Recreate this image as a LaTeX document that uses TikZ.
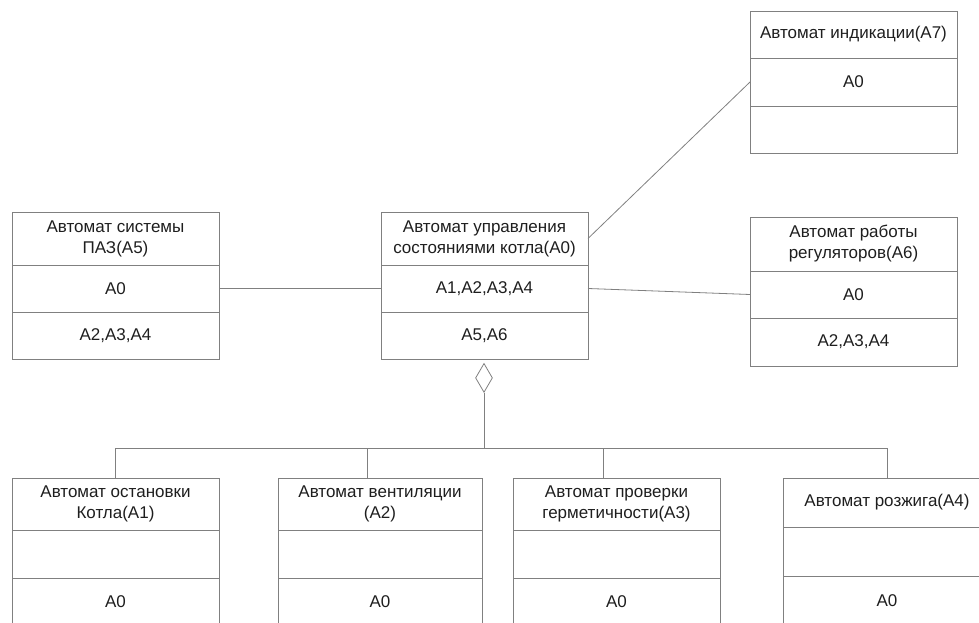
\documentclass[tikz,border=0pt]{standalone}
\usepackage{fontspec}
\setmainfont{Liberation Sans}
\usetikzlibrary{shapes.geometric}
\definecolor{lc}{HTML}{808080}
\definecolor{tc}{HTML}{1E1E1E}
\tikzset{
  umlframe/.style={draw=lc, line width=0.9pt, inner sep=0pt, outer sep=0pt, anchor=north west},
  sepline/.style={draw=lc, line width=0.9pt},
  conn/.style={draw=lc, line width=0.8pt},
  lbl/.style={text=tc, font=\fontsize{17}{21}\selectfont, align=center, inner sep=0pt},
  aggdiamond/.style={diamond, draw=lc, line width=0.8pt, minimum width=17pt, minimum height=29pt, inner sep=0pt, anchor=north, fill=white}
}
\begin{document}
\begin{tikzpicture}[x=1pt,y=-1pt]
\useasboundingbox (0,0) rectangle (979,623);
\foreach \n/\xa/\xb/\ya/\yb/\yc/\yd/\t/\m/\b in {
  a7/750/957/11/58/106/153/{Автомат индикации(A7)}/{A0}/{},
  a5/12/219/212/265/312/359/{Автомат системы\\ПАЗ(A5)}/{A0}/{A2,A3,A4},
  a0/381/588/212/265/312/359/{Автомат управления\\состояниями котла(A0)}/{A1,A2,A3,A4}/{A5,A6},
  a6/750/957/217/271/318/366/{Автомат работы\\регуляторов(A6)}/{A0}/{A2,A3,A4},
  a1/12/219/478/530/578/626/{Автомат остановки\\Котла(A1)}/{}/{A0},
  a2/278/482/478/530/578/626/{Автомат вентиляции\\(A2)}/{}/{A0},
  a3/513/720/478/530/578/626/{Автомат проверки\\герметичности(A3)}/{}/{A0},
  a4/783/991/478/527/576/626/{Автомат розжига(A4)}/{}/{A0}}{
  \node[umlframe, minimum width={(\xb-\xa)*1pt}, minimum height={(\yd-\ya)*1pt}] (\n) at (\xa,\ya) {};
  \draw[sepline] (\xa,\yb) -- (\xb,\yb);
  \draw[sepline] (\xa,\yc) -- (\xb,\yc);
  \node[lbl] (\n-t) at ({(\xa+\xb)/2},{(\ya+\yb)/2}) {\t};
  \node[lbl] (\n-m) at ({(\xa+\xb)/2},{(\yb+\yc)/2}) {\m};
  \node[lbl] (\n-b) at ({(\xa+\xb)/2},{(\yc+\yd)/2}) {\b};
}
% associations
\draw[conn] (a5.east |- a5-m) -- (a0.west |- a0-m);
\draw[conn] (a0.east |- a0-m) -- (a6.west |- a6-m);
\draw[conn] (a0.east |- a0-t) -- (a7.west |- a7-m);
% aggregation
\node[aggdiamond] (agg) at (484,363) {};
\coordinate (busL) at (115,448);
\coordinate (busR) at (887,448);
\coordinate (s1) at (115,448);
\coordinate (s2) at (367,448);
\coordinate (s3) at (603,448);
\coordinate (s4) at (887,448);
\draw[conn] (agg.south) -- (agg.south |- busL);
\draw[conn] (busL) -- (busR);
\draw[conn] (s1) -- (s1 |- a1.north);
\draw[conn] (s2) -- (s2 |- a2.north);
\draw[conn] (s3) -- (s3 |- a3.north);
\draw[conn] (s4) -- (s4 |- a4.north);
\end{tikzpicture}
\end{document}
